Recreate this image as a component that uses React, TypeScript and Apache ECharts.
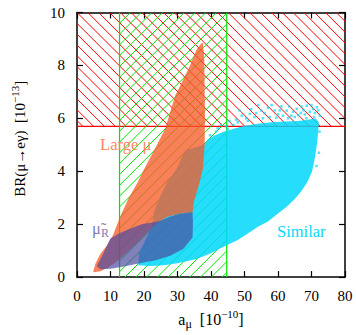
import React, { useEffect, useRef } from "react";
import * as echarts from "echarts";

// ---- axes ----
const X_MIN = 0;
const X_MAX = 80;
const X_INTERVAL = 10;
const Y_MIN = 0;
const Y_MAX = 10;
const Y_INTERVAL = 2;

// ---- experimental bounds ----
const megBound = 5.7; // BR(mu->e gamma) upper limit [1e-13]
const amuBand = [12.7, 44.7]; // a_mu preferred band [1e-10]

// ---- scan regions (boundary points) ----
const similarRegion: [number, number][] = [
  [18.3, 0.45], [22, 0.42], [26, 0.45], [30, 0.52], [35.7, 0.68], [40, 0.9],
  [42.7, 1.08], [44.7, 1.2], [48, 1.4], [51, 1.65], [54, 1.9], [57, 2.1],
  [60, 2.4], [62.5, 2.65], [65, 2.95], [67, 3.25], [68.8, 3.6], [70.2, 4.0],
  [71.0, 4.5], [71.6, 5.0], [72.0, 5.5], [72.2, 5.85], [71.2, 6.0], [69, 5.95],
  [66, 5.9], [62, 5.88], [58, 5.85], [54, 5.8], [50, 5.72], [47, 5.62],
  [44, 5.5], [41, 5.35], [39, 5.2], [38, 5.0], [35, 4.9], [32.5, 4.8],
  [31.5, 4.6], [29.8, 4.1], [27, 3.6], [25, 3.1], [23, 2.5], [22.3, 1.9],
  [20, 1.3], [18.5, 0.9],
];

const similarSpeckles: [number, number][] = [
  [39.7, 5.36], [42, 5.62], [46.7, 5.75], [49.2, 6.1], [51.6, 6.17], [54.1, 6.5],
  [56, 6.2], [58.1, 6.5], [60, 6.15], [62.6, 6.29], [64, 6.1], [65.6, 6.36],
  [67.6, 6.3], [68.6, 6.48], [70.5, 6.35], [71.6, 6.42], [72.5, 6.1],
  [53, 6.05], [44.5, 5.7], [66.8, 6.2],
  [41.5, 5.5], [43, 5.75], [45.5, 5.9], [47.5, 5.95], [48.5, 6.3], [50.5, 6.0],
  [52, 6.35], [55, 6.3], [55.5, 6.0], [57, 6.4], [59, 6.3], [59.5, 6.02],
  [61, 6.45], [61.5, 6.1], [63.3, 6.45], [64.5, 6.25], [66, 6.12], [67, 6.45],
  [68, 6.15], [69.5, 6.25], [70, 6.5], [71, 6.2], [72, 6.3],
  [72.4, 5.5], [72.2, 4.7], [71.5, 4.2],
  [57.5, 6.05], [63, 6.0], [65, 6.05], [68.5, 6.0], [70.8, 6.05], [48, 5.85],
  [45, 5.6], [51, 5.9], [53.5, 6.2], [60.5, 6.3],
];

const largeMuRegion: [number, number][] = [
  [4.8, 0.18], [7, 0.22], [9.5, 0.38], [12, 0.6], [15, 0.95], [18, 1.3],
  [21, 1.7], [24, 2.05], [27, 2.28], [31, 2.4], [34.5, 2.45], [35, 2.9],
  [36.2, 3.4], [37.6, 4.1], [38.1, 5.0], [38.2, 6.0], [38.1, 7.2], [38.0, 8.2],
  [37.6, 8.85], [37.2, 8.85], [35.7, 8.6], [33.2, 7.85], [29.3, 6.85],
  [26.3, 5.6], [23.3, 4.86], [20.5, 4.2], [18.2, 3.6], [15.5, 3.0],
  [13.3, 2.4], [12, 2.0], [10.8, 1.6], [9, 1.2], [6.9, 0.86], [5.5, 0.5],
];

const muRRegion: [number, number][] = [
  [5.9, 0.42], [7.5, 0.8], [9.9, 1.45], [12.5, 1.65], [15.3, 1.8], [19.3, 2.0],
  [22, 2.05], [24.8, 2.12], [27.5, 2.27], [30.7, 2.39], [34.5, 2.45],
  [34.6, 2.0], [34.5, 1.5], [31.7, 1.06], [27.8, 0.81], [23.8, 0.65],
  [21.8, 0.6], [18, 0.5], [14, 0.4], [10, 0.32], [7, 0.3],
];

// ---- annotations ----
const labelTexts = ["{a|Large μ}", "{a|μ̃}{s|R}", "{a|Similar}"];
const labelAnchors: [number, number][] = [[6.9, 5.0], [4.5, 1.83], [59.7, 1.74]];
const labelColors = ["rgb(250,135,100)", "rgb(128,124,186)", "rgb(10,215,248)"];

const FONT = '"Liberation Serif", "DejaVu Serif", serif';
const CYAN = "rgba(0,215,250,0.85)";
const ORANGE = "rgba(248,88,38,0.76)";
const PURPLE = "rgba(75,75,160,0.7)";
const RED = "#ff0000";
const GREEN = "#00e600";

function hatchSegments(L: number, T: number, R: number, B: number, spacing: number, dir: "back" | "fwd") {
  const segs: number[][] = [];
  if (dir === "back") {
    const c0 = T - L;
    const cMin = T - R;
    const cMax = B - L;
    const k = Math.ceil((cMin - c0) / spacing);
    for (let c = c0 + k * spacing; c <= cMax; c += spacing) {
      const xa = Math.max(L, T - c);
      const xb = Math.min(R, B - c);
      if (xb > xa) segs.push([xa, xa + c, xb, xb + c]);
    }
  } else {
    const cMin = T + L;
    const cMax = B + R;
    for (let c = cMin; c <= cMax; c += spacing) {
      const xa = Math.max(L, c - B);
      const xb = Math.min(R, c - T);
      if (xb > xa) segs.push([xa, c - xa, xb, c - xb]);
    }
  }
  return segs;
}

function hatchSeries(rect: number[], dir: "back" | "fwd", color: string, borders: string[]) {
  return {
    type: "custom",
    xAxisIndex: 0,
    yAxisIndex: 0,
    z: 1,
    silent: true,
    clip: true,
    data: [rect],
    renderItem: (params: any, api: any) => {
      const tl = api.coord([api.value(0), api.value(3)]);
      const br = api.coord([api.value(1), api.value(2)]);
      const L = tl[0], T = tl[1], R = br[0], B = br[1];
      const children: any[] = hatchSegments(L, T, R, B, 10.8, dir).map((s) => ({
        type: "line",
        shape: { x1: s[0], y1: s[1], x2: s[2], y2: s[3] },
        style: { stroke: color, lineWidth: 1 },
      }));
      const edges: Record<string, number[]> = {
        left: [L, T, L, B],
        right: [R, T, R, B],
        bottom: [L, B, R, B],
      };
      borders.forEach((b) => {
        const e = edges[b];
        children.push({
          type: "line",
          shape: { x1: e[0], y1: e[1], x2: e[2], y2: e[3] },
          style: { stroke: color, lineWidth: 1.2 },
        });
      });
      return { type: "group", children };
    },
  };
}

function polygonSeries(name: string, pts: [number, number][], fill: string, z: number) {
  return {
    type: "custom",
    name,
    xAxisIndex: 0,
    yAxisIndex: 0,
    z,
    silent: true,
    clip: true,
    data: [pts[0]],
    renderItem: (params: any, api: any) => ({
      type: "polygon",
      shape: { points: pts.map((p) => api.coord(p)) },
      style: { fill },
    }),
  };
}

const axisCommon = {
  type: "value",
  axisLine: { show: true, onZero: false, lineStyle: { color: "#000", width: 1.5 } },
  axisTick: { show: true, inside: true, length: 6, lineStyle: { color: "#000", width: 1.2 } },
  splitLine: { show: false },
};

export default function App() {
  const ref = useRef<HTMLDivElement>(null);
  useEffect(() => {
    if (!ref.current) return;
    const chart = echarts.init(ref.current, null, { renderer: "svg" });
    const tickLabel = { color: "#000", fontFamily: FONT, fontSize: 15 };
    const nameRich = {
      t: { fontFamily: FONT, fontSize: 16, color: "#000", lineHeight: 22 },
      p: { fontFamily: FONT, fontSize: 11, color: "#000", lineHeight: 10, verticalAlign: "top" },
      s: { fontFamily: FONT, fontSize: 12, color: "#000", lineHeight: 12, verticalAlign: "bottom" },
    };
    chart.setOption({
      animation: false,
      backgroundColor: "#fff",
      grid: { left: 77, right: 11, top: 12.5, bottom: 55, containLabel: false },
      xAxis: [
        {
          ...axisCommon,
          min: X_MIN, max: X_MAX, interval: X_INTERVAL, position: "bottom",
          axisLabel: { ...tickLabel, margin: 11 },
          name: "{t|a}{s|μ}{t|  [10}{p|−10}{t|]}",
          nameLocation: "middle",
          nameGap: 30,
          nameTextStyle: { rich: nameRich },
        },
        {
          ...axisCommon,
          min: X_MIN, max: X_MAX, interval: X_INTERVAL, position: "top",
          axisLabel: { show: false },
        },
      ],
      yAxis: [
        {
          ...axisCommon,
          min: Y_MIN, max: Y_MAX, interval: Y_INTERVAL, position: "left",
          axisLabel: { ...tickLabel, margin: 12 },
          name: "{t|BR(μ→eγ)  [10}{p|−13}{t|]}",
          nameLocation: "middle",
          nameGap: 46,
          nameTextStyle: {
            padding: [0, 0, 0, 12],
            rich: { ...nameRich, t: { ...nameRich.t, fontSize: 15 } },
          },
        },
        {
          ...axisCommon,
          min: Y_MIN, max: Y_MAX, interval: Y_INTERVAL, position: "right",
          axisLabel: { show: false },
        },
      ],
      series: [
        hatchSeries([X_MIN, X_MAX, megBound, Y_MAX], "back", RED, ["bottom"]),
        hatchSeries([amuBand[0], amuBand[1], Y_MIN, Y_MAX], "fwd", GREEN, ["left", "right"]),
        polygonSeries("Similar", similarRegion, CYAN, 2),
        {
          type: "scatter",
          xAxisIndex: 0,
          yAxisIndex: 0,
          z: 2,
          silent: true,
          symbol: "rect",
          symbolSize: 2.5,
          itemStyle: { color: CYAN },
          data: similarSpeckles,
        },
        {
          type: "custom",
          xAxisIndex: 0,
          yAxisIndex: 0,
          z: 3,
          silent: true,
          data: labelAnchors,
          renderItem: (params: any, api: any) => {
            const p = api.coord([api.value(0), api.value(1)]);
            const i = params.dataIndex;
            return {
              type: "text",
              x: p[0],
              y: p[1],
              style: {
                text: labelTexts[i],
                align: "left",
                verticalAlign: "middle",
                rich: {
                  a: { fontFamily: FONT, fontSize: 16.5, fill: labelColors[i], lineHeight: 20 },
                  s: { fontFamily: FONT, fontSize: 12, fill: labelColors[i], lineHeight: 12, verticalAlign: "bottom" },
                },
              },
            };
          },
        },
        polygonSeries("Large mu", largeMuRegion, ORANGE, 4),
        polygonSeries("mu_R", muRRegion, PURPLE, 5),
      ],
    });
    return () => chart.dispose();
  }, []);
  return (
    <div
      ref={ref}
      style={{ position: "fixed", left: 0, top: 0, width: 356, height: 335 }}
    />
  );
}
